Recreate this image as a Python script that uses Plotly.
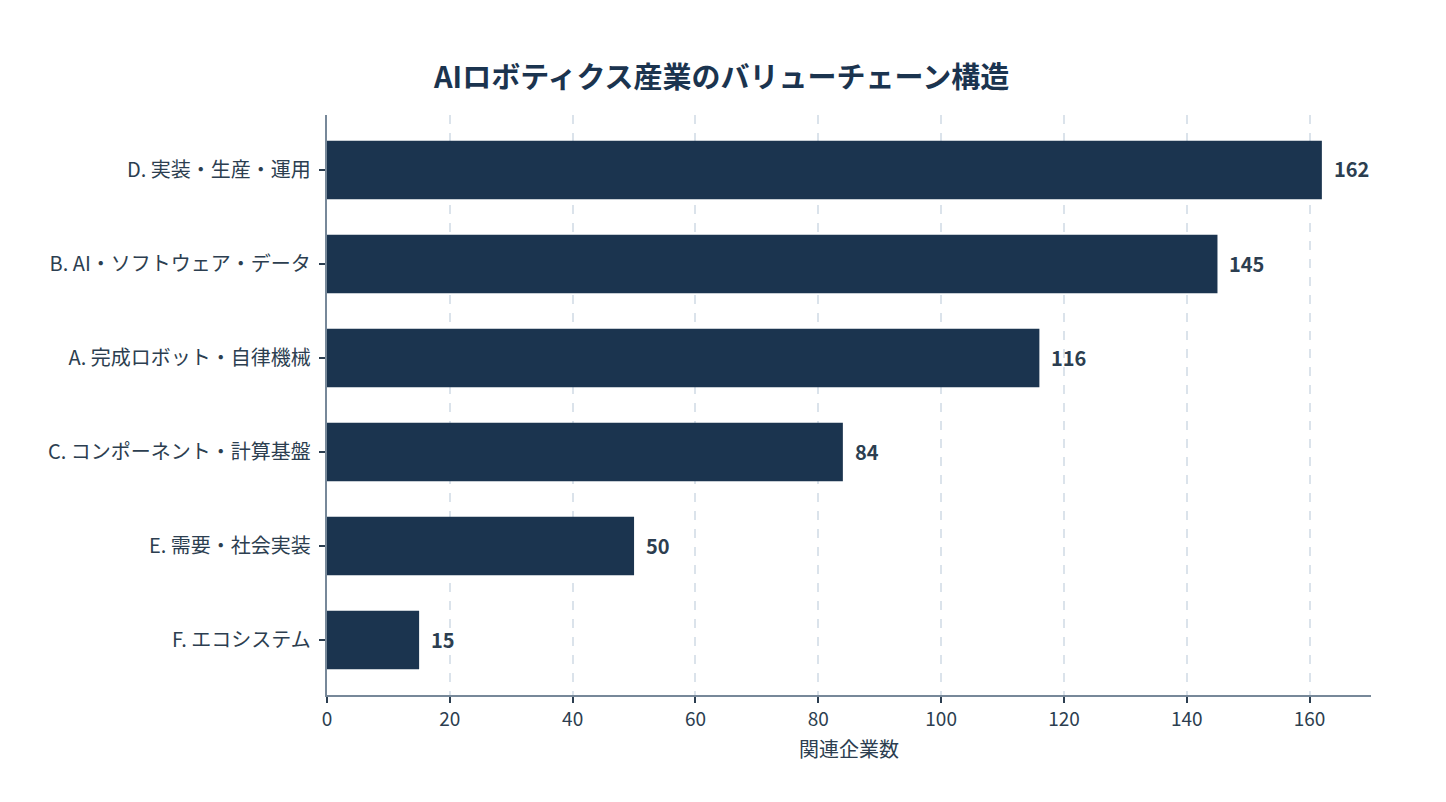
import plotly.graph_objects as go

categories = [
    "F. エコシステム",
    "E. 需要・社会実装",
    "C. コンポーネント・計算基盤",
    "A. 完成ロボット・自律機械",
    "B. AI・ソフトウェア・データ",
    "D. 実装・生産・運用",
]
counts = [15, 50, 84, 116, 145, 162]
x_ticks = [0, 20, 40, 60, 80, 100, 120, 140, 160]

FONT = "Noto Sans CJK JP"
NAVY = "#1b344f"
TEXT = "#2c3e50"
AXIS = "#778899"

fig = go.Figure(
    go.Bar(
        x=counts,
        y=categories,
        orientation="h",
        marker=dict(color=NAVY, line=dict(width=0)),
        width=0.62,
        hoverinfo="skip",
    )
)

for c, v in zip(categories, counts):
    fig.add_annotation(
        x=v, y=c, xref="x", yref="y",
        text=f"<b>{v}</b>",
        showarrow=False,
        xanchor="left",
        yanchor="middle",
        xshift=10,
        yshift=1,
        font=dict(family=FONT, size=20, color=TEXT),
    )

fig.update_layout(
    width=1446,
    height=802,
    paper_bgcolor="white",
    plot_bgcolor="white",
    margin=dict(l=319, r=83, t=107, b=115),
    title=dict(
        text="<b>AIロボティクス産業のバリューチェーン構造</b>",
        x=0.4935,
        xanchor="center",
        y=0.913,
        yanchor="middle",
        font=dict(family=FONT, size=29, color="#1b344f"),
    ),
    font=dict(family=FONT, size=19, color=TEXT),
    showlegend=False,
)

fig.update_xaxes(
    range=[0, 170],
    tickvals=x_ticks,
    ticktext=[str(t) for t in x_ticks],
    showgrid=True,
    gridcolor="#dbe3eb",
    griddash="dash",
    gridwidth=1.5,
    zeroline=False,
    showline=True,
    linecolor=AXIS,
    linewidth=1.5,
    ticks="outside",
    ticklen=6,
    tickcolor=TEXT,
    tickwidth=1.5,
    tickfont=dict(family=FONT, size=19, color=TEXT),
    title=dict(text="関連企業数", font=dict(family=FONT, size=20, color=TEXT), standoff=13),
)

fig.update_yaxes(
    range=[-0.585, 5.585],
    showgrid=False,
    zeroline=False,
    showline=True,
    linecolor=AXIS,
    linewidth=1.5,
    ticks="outside",
    ticklen=6,
    tickcolor=TEXT,
    tickwidth=1.5,
    tickfont=dict(family=FONT, size=20, color=TEXT),
    ticksuffix=" ",
)

fig.write_html("out.html")
